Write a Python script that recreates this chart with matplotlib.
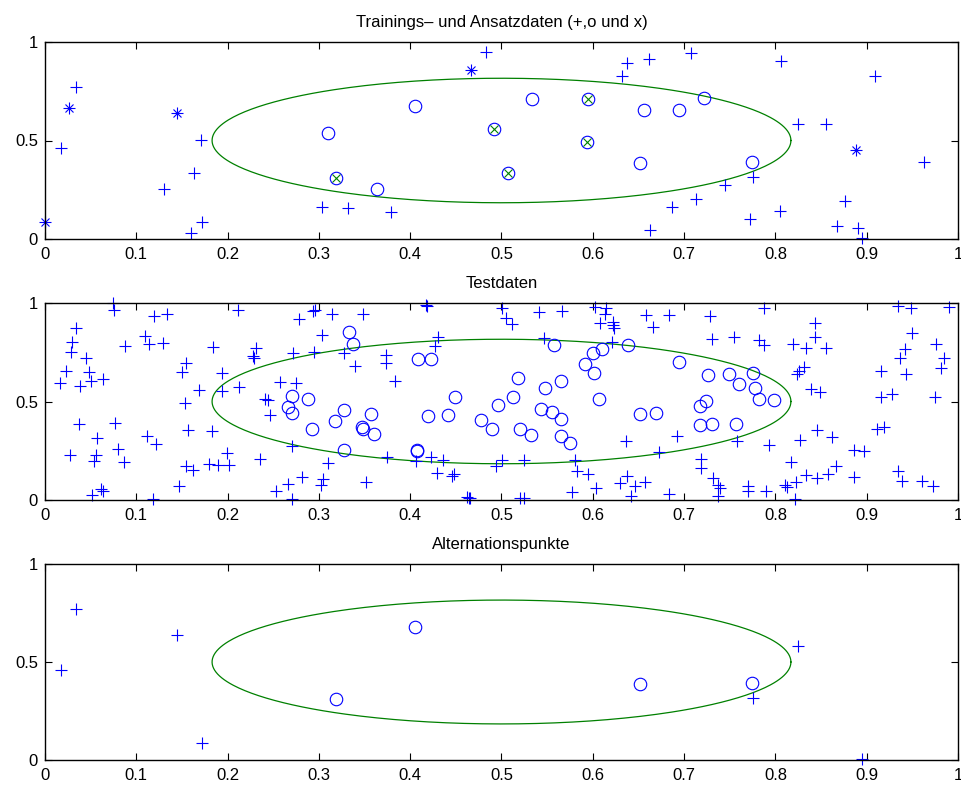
import numpy as np
import matplotlib.pyplot as plt
from matplotlib.ticker import FormatStrFormatter

plt.rcParams['font.family'] = ['Liberation Sans', 'DejaVu Sans']

BLAU = (0, 0, 1)
GRUEN = (0, 0.5, 0)

# Trainingsdaten, Klasse "+" (inkl. der Ansatzpunkte dieser Klasse)
train_plus_x = [0.017, 0.034, 0.130, 0.163, 0.171, 0.172, 0.160, 0.303, 0.332, 0.379,
                0.483, 0.638, 0.662, 0.708, 0.806, 0.632, 0.909, 0.825, 0.855, 0.963,
                0.775, 0.745, 0.713, 0.687, 0.663, 0.772, 0.805, 0.876, 0.868, 0.891,
                0.895, 0.000, 0.026, 0.145, 0.467, 0.888]
train_plus_y = [0.460, 0.770, 0.252, 0.335, 0.504, 0.086, 0.030, 0.162, 0.157, 0.137,
                0.951, 0.893, 0.912, 0.944, 0.902, 0.825, 0.825, 0.584, 0.584, 0.391,
                0.316, 0.274, 0.203, 0.160, 0.044, 0.103, 0.144, 0.194, 0.064, 0.056,
                0.007, 0.084, 0.663, 0.640, 0.858, 0.453]

# Trainingsdaten, Klasse "o"
train_kreis_x = [0.310, 0.405, 0.364, 0.533, 0.656, 0.694, 0.722, 0.652, 0.774,
                 0.319, 0.492, 0.507, 0.595, 0.594]
train_kreis_y = [0.538, 0.677, 0.254, 0.711, 0.656, 0.656, 0.714, 0.387, 0.392,
                 0.311, 0.556, 0.333, 0.712, 0.490]

# Ansatzdaten (x)
ansatz_plus_x = [0.000, 0.026, 0.145, 0.467, 0.888]
ansatz_plus_y = [0.084, 0.663, 0.640, 0.858, 0.453]
ansatz_kreis_x = [0.319, 0.492, 0.507, 0.595, 0.594]
ansatz_kreis_y = [0.311, 0.556, 0.333, 0.712, 0.490]

# Testdaten
test_plus = [
    (0.075, 0.998), (0.076, 0.965), (0.119, 0.936), (0.134, 0.944), (0.211, 0.965),
    (0.034, 0.875), (0.030, 0.801), (0.028, 0.753), (0.109, 0.834), (0.114, 0.791),
    (0.129, 0.799), (0.088, 0.784), (0.045, 0.720), (0.023, 0.654), (0.048, 0.652),
    (0.016, 0.593), (0.038, 0.581), (0.050, 0.605), (0.064, 0.613), (0.184, 0.775),
    (0.154, 0.694), (0.150, 0.649), (0.194, 0.647), (0.231, 0.774), (0.228, 0.731),
    (0.229, 0.720), (0.169, 0.556), (0.194, 0.551), (0.213, 0.574), (0.241, 0.512),
    (0.244, 0.508), (0.153, 0.492), (0.246, 0.432), (0.037, 0.385), (0.077, 0.389),
    (0.057, 0.314), (0.027, 0.226), (0.056, 0.226), (0.054, 0.199), (0.080, 0.260),
    (0.087, 0.194), (0.112, 0.326), (0.122, 0.284), (0.157, 0.356), (0.183, 0.348),
    (0.199, 0.240), (0.154, 0.174), (0.162, 0.150), (0.180, 0.182), (0.189, 0.177),
    (0.201, 0.177), (0.235, 0.209), (0.147, 0.071), (0.051, 0.027), (0.061, 0.054),
    (0.063, 0.047), (0.118, 0.007), (0.253, 0.047),
    (0.293, 0.961), (0.296, 0.965), (0.278, 0.917), (0.314, 0.944), (0.348, 0.944),
    (0.303, 0.838), (0.272, 0.745), (0.295, 0.753), (0.327, 0.745), (0.339, 0.681),
    (0.257, 0.601), (0.275, 0.596), (0.373, 0.736), (0.374, 0.694), (0.383, 0.605),
    (0.417, 0.990), (0.418, 0.985), (0.430, 0.826), (0.427, 0.784), (0.501, 0.976),
    (0.505, 0.926), (0.271, 0.275), (0.310, 0.188), (0.282, 0.118), (0.266, 0.081),
    (0.271, 0.007), (0.304, 0.108), (0.302, 0.078), (0.352, 0.090), (0.375, 0.216),
    (0.406, 0.199), (0.423, 0.216), (0.436, 0.201), (0.429, 0.135), (0.446, 0.120),
    (0.448, 0.132), (0.462, 0.015), (0.464, 0.010), (0.466, 0.012), (0.494, 0.171),
    (0.501, 0.201),
    (0.512, 0.892), (0.541, 0.956), (0.566, 0.961), (0.602, 0.978), (0.615, 0.975),
    (0.613, 0.945), (0.608, 0.897), (0.622, 0.905), (0.622, 0.890), (0.623, 0.875),
    (0.658, 0.939), (0.684, 0.939), (0.666, 0.877), (0.728, 0.936), (0.731, 0.816),
    (0.755, 0.829), (0.547, 0.824), (0.621, 0.804), (0.525, 0.204), (0.580, 0.201),
    (0.583, 0.145), (0.595, 0.133), (0.603, 0.061), (0.577, 0.039), (0.638, 0.120),
    (0.630, 0.088), (0.646, 0.071), (0.657, 0.090), (0.642, 0.022), (0.683, 0.032),
    (0.636, 0.297), (0.692, 0.326), (0.672, 0.242), (0.718, 0.208), (0.718, 0.162),
    (0.732, 0.112), (0.737, 0.078), (0.739, 0.061), (0.737, 0.022), (0.520, 0.010),
    (0.525, 0.010), (0.758, 0.297),
    (0.788, 0.976), (0.934, 0.986), (0.949, 0.973), (0.990, 0.981), (0.843, 0.897),
    (0.843, 0.826), (0.782, 0.813), (0.787, 0.787), (0.819, 0.792), (0.833, 0.770),
    (0.855, 0.770), (0.831, 0.677), (0.826, 0.655), (0.824, 0.640), (0.839, 0.563),
    (0.849, 0.547), (0.916, 0.657), (0.916, 0.522), (0.928, 0.537), (0.943, 0.639),
    (0.936, 0.720), (0.942, 0.765), (0.950, 0.850), (0.976, 0.791), (0.985, 0.720),
    (0.981, 0.672), (0.975, 0.522), (0.846, 0.353), (0.862, 0.319), (0.827, 0.306),
    (0.793, 0.280), (0.911, 0.362), (0.919, 0.373), (0.886, 0.255), (0.897, 0.247),
    (0.817, 0.191), (0.866, 0.171), (0.858, 0.133), (0.834, 0.128), (0.846, 0.112),
    (0.823, 0.091), (0.811, 0.078), (0.813, 0.064), (0.822, 0.007), (0.886, 0.118),
    (0.934, 0.145), (0.939, 0.095), (0.961, 0.095), (0.973, 0.069), (0.790, 0.044),
    (0.770, 0.069), (0.770, 0.044),
]
test_kreis = [
    (0.333, 0.855), (0.337, 0.791), (0.408, 0.718), (0.423, 0.715), (0.271, 0.530),
    (0.288, 0.515), (0.266, 0.470), (0.270, 0.444), (0.292, 0.358), (0.328, 0.459),
    (0.318, 0.402), (0.357, 0.436), (0.347, 0.373), (0.348, 0.362), (0.360, 0.334),
    (0.328, 0.255), (0.407, 0.248), (0.407, 0.256), (0.420, 0.424), (0.441, 0.431),
    (0.449, 0.522), (0.477, 0.405), (0.490, 0.358), (0.496, 0.482), (0.518, 0.618),
    (0.513, 0.525), (0.557, 0.787), (0.548, 0.568), (0.565, 0.605), (0.543, 0.463),
    (0.555, 0.446), (0.565, 0.409), (0.520, 0.358), (0.532, 0.331), (0.565, 0.326),
    (0.575, 0.291), (0.600, 0.746), (0.610, 0.766), (0.592, 0.691), (0.601, 0.647),
    (0.607, 0.514), (0.639, 0.787), (0.694, 0.698), (0.652, 0.438), (0.669, 0.443),
    (0.717, 0.475), (0.724, 0.503), (0.717, 0.380), (0.731, 0.385), (0.726, 0.632),
    (0.749, 0.638), (0.757, 0.387), (0.760, 0.590), (0.775, 0.644), (0.778, 0.568),
    (0.782, 0.514), (0.799, 0.507),
]

# Alternationspunkte
alt_plus_x = [0.017, 0.034, 0.145, 0.172, 0.775, 0.825, 0.895]
alt_plus_y = [0.460, 0.770, 0.640, 0.086, 0.316, 0.584, 0.007]
alt_kreis_x = [0.319, 0.405, 0.652, 0.774]
alt_kreis_y = [0.311, 0.677, 0.387, 0.392]

# Trennkurve (Ellipse)
ell_mx, ell_my = 0.5, 0.5
ell_rx, ell_ry = 0.317, 0.316

test_plus = np.array(test_plus)
test_kreis = np.array(test_kreis)

t = np.linspace(0, 2 * np.pi, 400)
ell_x = ell_mx + ell_rx * np.cos(t)
ell_y = ell_my + ell_ry * np.sin(t)

fig = plt.figure(figsize=(9.62, 7.89), dpi=100)
W, H = 962, 789
# Achsenpositionen in Pixeln: (links, oben, rechts, unten)
boxen = [(45, 42, 958, 239), (45, 303, 958, 500), (45, 564, 958, 760)]
titel = ['Trainings\u2013 und Ansatzdaten (+,o und x)', 'Testdaten', 'Alternationspunkte']

axes = []
for (l, o, r, u), tt in zip(boxen, titel):
    ax = fig.add_axes([l / W, 1 - u / H, (r - l) / W, (u - o) / H])
    ax.set_xlim(0, 1)
    ax.set_ylim(0, 1)
    ax.set_xticks(np.linspace(0, 1, 11))
    ax.set_yticks([0, 0.5, 1])
    ax.xaxis.set_major_formatter(FormatStrFormatter('%g'))
    ax.yaxis.set_major_formatter(FormatStrFormatter('%g'))
    ax.tick_params(direction='in', top=True, right=True, length=5, width=0.8,
                   labelsize=12, colors='black')
    ax.tick_params(axis='x', pad=6)
    ax.tick_params(axis='y', pad=5)
    for sp in ax.spines.values():
        sp.set_linewidth(1.0)
    ax.plot(ell_x, ell_y, color=GRUEN, linewidth=0.9)
    ax.set_title(tt, fontsize=12, pad=11)
    axes.append(ax)

mk = dict(linestyle='', clip_on=False, markeredgewidth=0.8)

ax = axes[0]
ax.plot(train_plus_x, train_plus_y, '+', color=BLAU, markersize=8, **mk)
ax.plot(train_kreis_x, train_kreis_y, 'o', color=BLAU, markerfacecolor='none', markersize=9, **mk)
ax.plot(ansatz_plus_x, ansatz_plus_y, 'x', color=BLAU, markersize=6, **mk)
ax.plot(ansatz_kreis_x, ansatz_kreis_y, 'x', color=GRUEN, markersize=6, **mk)

ax = axes[1]
ax.plot(test_plus[:, 0], test_plus[:, 1], '+', color=BLAU, markersize=8, **mk)
ax.plot(test_kreis[:, 0], test_kreis[:, 1], 'o', color=BLAU, markerfacecolor='none', markersize=9, **mk)

ax = axes[2]
ax.plot(alt_plus_x, alt_plus_y, '+', color=BLAU, markersize=8, **mk)
ax.plot(alt_kreis_x, alt_kreis_y, 'o', color=BLAU, markerfacecolor='none', markersize=9, **mk)

fig.savefig('out.png', dpi=100)
